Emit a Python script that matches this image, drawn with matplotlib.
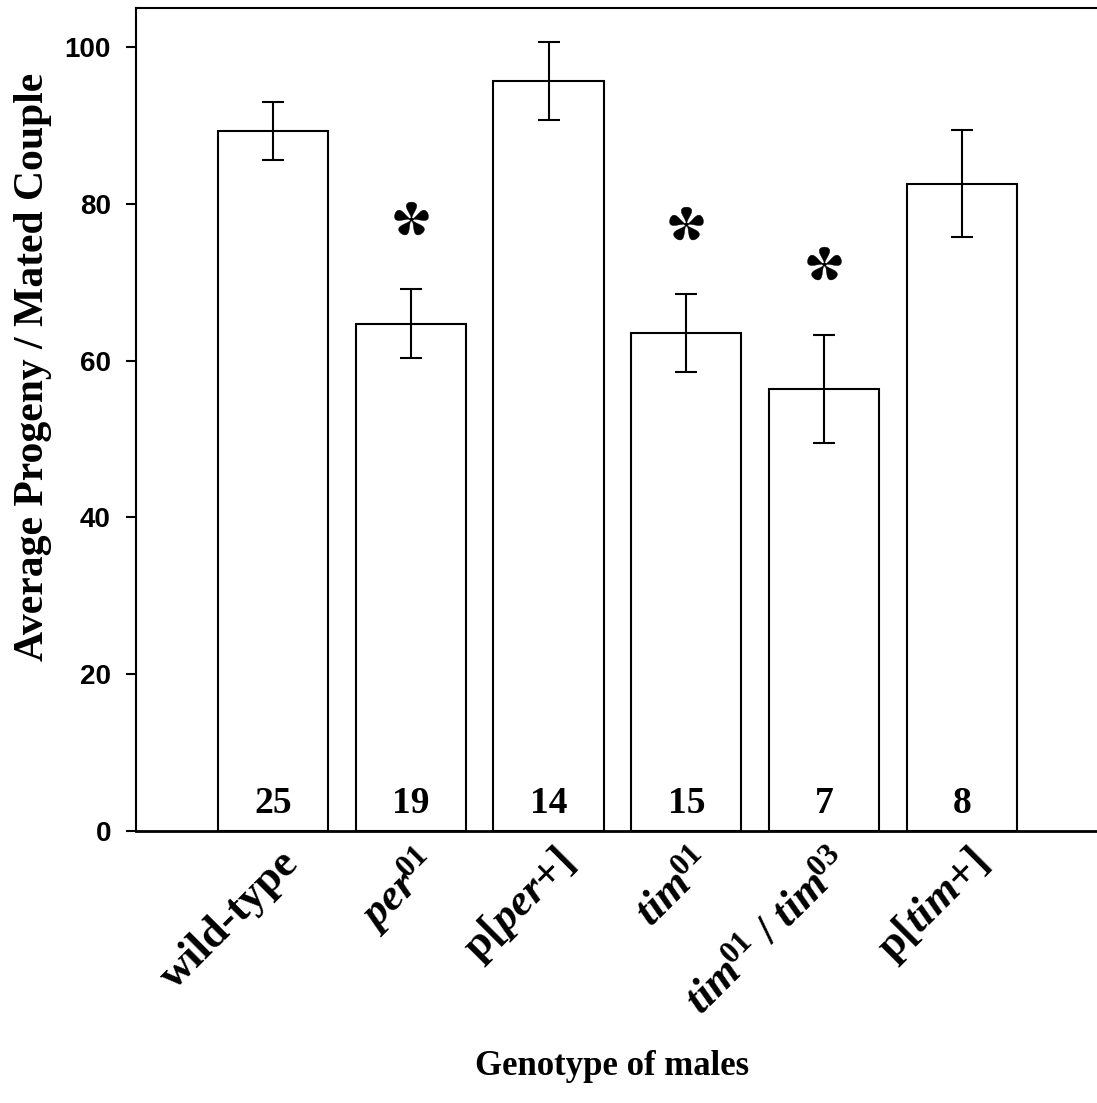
import matplotlib
matplotlib.use("Agg")
import matplotlib.pyplot as plt
import matplotlib.transforms as mtransforms
from matplotlib.path import Path
import numpy as np

plt.rcParams['mathtext.fontset'] = 'custom'
plt.rcParams['mathtext.rm'] = 'Liberation Serif:bold'
plt.rcParams['mathtext.it'] = 'Liberation Serif:italic:bold'
plt.rcParams['mathtext.bf'] = 'Liberation Serif:bold'
plt.rcParams['mathtext.sf'] = 'Liberation Serif:bold'
plt.rcParams['mathtext.tt'] = 'Liberation Serif:bold'
plt.rcParams['mathtext.cal'] = 'Liberation Serif:bold'

# ---- data ----
genotypes = ["wild-type",
             r"$\mathit{per}^{\!\mathit{01}}$",
             r"p[$\mathit{per}$+]",
             r"$\mathit{tim}^{\!\mathit{01}}$",
             r"$\mathit{tim}^{\!\mathit{01}}$ / $\mathit{tim}^{\!\mathit{03}}$",
             r"p[$\mathit{tim}$+]"]
mean_progeny = [89.3, 64.7, 95.7, 63.5, 56.4, 82.6]
sem_progeny = [3.75, 4.4, 5.0, 5.0, 6.9, 6.8]
n_couples = [25, 19, 14, 15, 7, 8]
significant = [False, True, False, True, True, False]
y_ticks = [0, 20, 40, 60, 80, 100]


def asterisk_path(n_petals=5, width=0.5):
    """Five-petal teardrop asterisk like the Times bold glyph."""
    t = np.linspace(0, 2 * np.pi, 80)
    py = (1 - np.cos(t)) / 2
    px = width * np.sin(t) * py ** 1.3
    verts, codes = [], []
    for k in range(n_petals):
        a = np.deg2rad(72 * k)
        xr = px * np.cos(a) - py * np.sin(a)
        yr = px * np.sin(a) + py * np.cos(a)
        pts = np.column_stack([xr, yr])
        verts.extend(pts.tolist())
        codes.extend([Path.MOVETO] + [Path.LINETO] * (len(pts) - 2) + [Path.CLOSEPOLY])
    th = np.linspace(0, 2 * np.pi, 20)
    hub = np.column_stack([0.1 * np.cos(th), 0.1 * np.sin(th)])
    verts.extend(hub.tolist())
    codes.extend([Path.MOVETO] + [Path.LINETO] * (len(hub) - 2) + [Path.CLOSEPOLY])
    return Path(verts, codes)


W, H = 1097, 1103
fig = plt.figure(figsize=(W / 100, H / 100), dpi=100)
ax = fig.add_axes([136 / W, 1 - 831 / H, 1 - 136 / W, 823 / H])

x = np.arange(len(genotypes))
ax.bar(x, mean_progeny, width=0.8, color='white', edgecolor='black',
       linewidth=1.5, yerr=sem_progeny, capsize=8, zorder=2,
       error_kw=dict(elinewidth=1.5, capthick=1.5, ecolor='black'))

ax.set_xlim(-0.994, 5.98)
ax.set_ylim(0, 105)

ax.spines['right'].set_visible(False)
ax.spines['left'].set_linewidth(1.5)
ax.spines['top'].set_linewidth(1.5)
ax.spines['bottom'].set_linewidth(2.0)

ax.set_yticks(y_ticks)
ax.set_yticklabels([str(t) for t in y_ticks], fontfamily='Liberation Sans',
                   fontweight='bold', fontsize=20)
ax.tick_params(axis='y', direction='out', length=7, width=1.5, pad=11)

ax.set_xticks(x)
ax.set_xticklabels(genotypes, fontfamily='Liberation Serif', fontweight='bold',
                   fontsize=32, rotation=45, ha='right', va='center',
                   rotation_mode='anchor')
ax.tick_params(axis='x', length=0, pad=0)
offset = mtransforms.ScaledTranslation(14 / 72, -19 / 72, fig.dpi_scale_trans)
for lbl in ax.get_xticklabels():
    lbl.set_transform(lbl.get_transform() + offset)

# n labels
for xi, n in zip(x, n_couples):
    ax.text(xi, 2.3, str(n), ha='center', va='baseline', fontsize=27,
            fontfamily='Liberation Serif', fontweight='bold', zorder=3)

# significance stars
star_gap = 9.0
sx = [xi for xi, s in zip(x, significant) if s]
sy = [m + e + star_gap for m, e, s in zip(mean_progeny, sem_progeny, significant) if s]
star = asterisk_path()
ax.plot(sx, sy, linestyle='none', marker=star, markersize=25,
        markerfacecolor='black', markeredgecolor='black', markeredgewidth=0.3,
        clip_on=False, zorder=4)

ax.set_ylabel("Average Progeny / Mated Couple", fontfamily='Liberation Serif',
              fontweight='bold', fontsize=30)
ax.yaxis.set_label_coords(-0.0874, 0.5638)

fig.text(612 / W, 1 - 1075 / H, "Genotype of males", ha='center', va='baseline',
         fontfamily='Liberation Serif', fontweight='bold', fontsize=25)

fig.savefig("out.png", dpi=100)
